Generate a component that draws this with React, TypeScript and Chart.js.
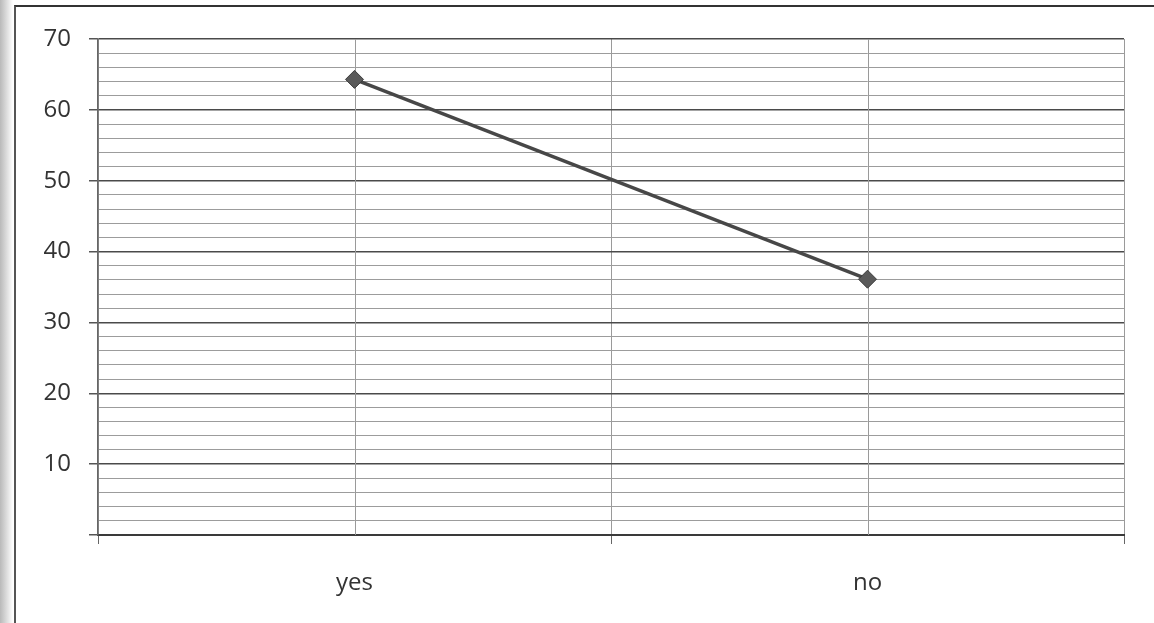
import { useEffect, useRef } from "react";
import { Chart, registerables } from "chart.js";

Chart.register(...registerables);

const categories = ["yes", "no"];
const values = [64.3, 36.1];
const yMin = 0;
const yMax = 70;
const yStep = 2;
const yLabelStep = 10;

export default function App() {
  const ref = useRef<HTMLCanvasElement>(null);

  useEffect(() => {
    if (!ref.current) return;
    const centerLines = {
      id: "centerLines",
      beforeDatasetsDraw(chart: any) {
        const { ctx, chartArea, scales } = chart;
        const xs = scales.x;
        ctx.save();
        ctx.strokeStyle = "#9a9a9a";
        ctx.lineWidth = 1;
        categories.forEach((_, i) => {
          const px = Math.round(xs.getPixelForValue(i)) + 0.5;
          ctx.beginPath();
          ctx.moveTo(px, chartArea.top);
          ctx.lineTo(px, chartArea.bottom);
          ctx.stroke();
        });
        ctx.restore();
      },
    };
    const chart = new Chart(ref.current, {
      type: "line",
      data: {
        labels: categories,
        datasets: [
          {
            data: values,
            borderColor: "#474747",
            borderWidth: 3.5,
            pointStyle: "rectRot",
            pointRadius: 9,
            pointBackgroundColor: "#5a5a5a",
            pointBorderColor: "#3a3a3a",
            pointBorderWidth: 1,
            tension: 0,
          },
        ],
      },
      options: {
        animation: false,
        responsive: false,
        layout: { padding: { left: 0, right: 30, top: 39, bottom: 0 } },
        plugins: { legend: { display: false }, tooltip: { enabled: false } },
        scales: {
          x: {
            type: "category",
            offset: true,
            grid: {
              offset: true,
              color: "#9a9a9a",
              lineWidth: 1,
              tickLength: 9,
              tickColor: "#666",
            },
            border: { color: "#3a3a3a", width: 2 },
            ticks: {
              color: "#333",
              font: { family: "Open Sans", size: 24 },
              padding: 25,
            },
            afterFit: (s: any) => {
              s.height = 88;
            },
          },
          y: {
            min: yMin,
            max: yMax,
            ticks: {
              stepSize: yStep,
              autoSkip: false,
              maxTicksLimit: 100,
              color: "#333",
              font: { family: "Open Sans", size: 24 },
              padding: 18,
              callback: (v: any) =>
                Number(v) % yLabelStep === 0 && Number(v) !== 0 ? String(v) : "",
            },
            grid: {
              color: (c: any) =>
                c.tick && c.tick.value % yLabelStep === 0 ? "#4a4a4a" : "#9c9c9c",
              lineWidth: (c: any) =>
                c.tick && c.tick.value % yLabelStep === 0 ? 1.5 : 1,
              tickColor: (c: any) =>
                c.tick && c.tick.value % yLabelStep === 0 ? "#555" : "rgba(0,0,0,0)",
              tickLength: 9,
            },
            border: { color: "#666", width: 1.5 },
            afterFit: (s: any) => {
              s.width = 98;
            },
          },
        },
      },
      plugins: [centerLines],
    } as any);
    return () => chart.destroy();
  }, []);

  return (
    <div
      style={{
        position: "fixed",
        left: 0,
        top: 0,
        width: 1154,
        height: 623,
        background:
          "linear-gradient(to right, #b9b9b9 0px, #dedede 7px, #ffffff 13px)",
        overflow: "hidden",
      }}
    >
      <div
        style={{
          position: "absolute",
          left: 14,
          top: 5,
          width: 1200,
          height: 700,
          borderTop: "2px solid #333",
          borderLeft: "2px solid #555",
          background: "#fff",
        }}
      />
      <canvas
        ref={ref}
        width={1154}
        height={623}
        style={{ position: "absolute", left: 0, top: 0, width: 1154, height: 623 }}
      />
    </div>
  );
}
